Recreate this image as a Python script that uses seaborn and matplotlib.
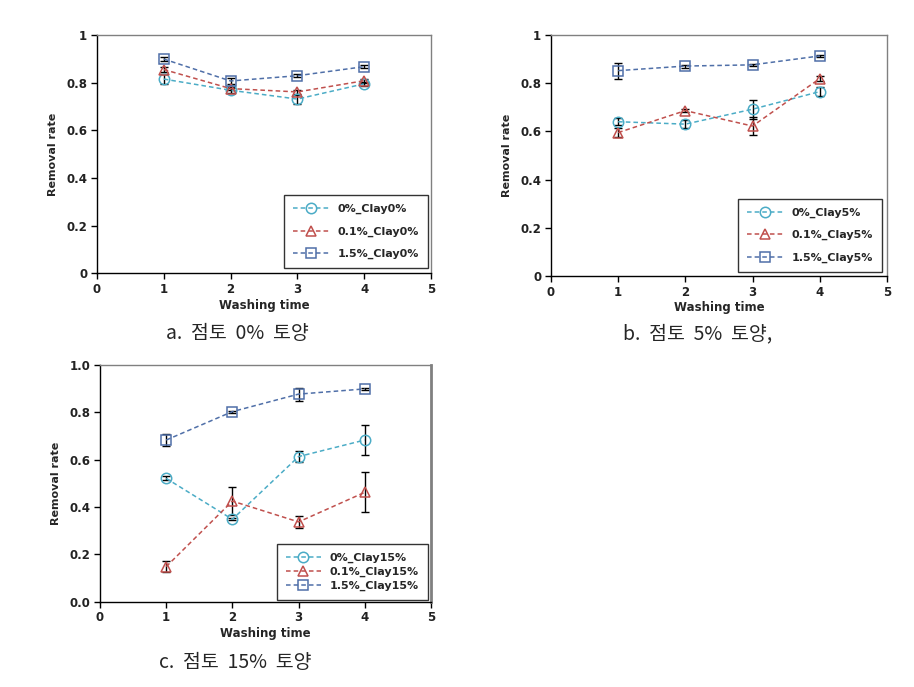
import matplotlib
matplotlib.use("Agg")
import matplotlib.pyplot as plt
import seaborn as sns
import pandas as pd
import numpy as np

sns.set_theme(style="white")
plt.rcParams['font.family'] = ['DejaVu Sans', 'Noto Sans CJK KR']

washing = [1, 2, 3, 4]
series_names = ["0%", "0.1%", "1.5%"]

# Panel a: Clay 0%
a_0 = [0.815, 0.768, 0.731, 0.795]
a_01 = [0.855, 0.775, 0.761, 0.808]
a_15 = [0.899, 0.807, 0.829, 0.867]
a_0_err = [0.022, 0.010, 0.019, 0.008]
a_01_err = [0.010, 0.008, 0.010, 0.008]
a_15_err = [0.008, 0.012, 0.006, 0.006]

# Panel b: Clay 5%
b_0 = [0.640, 0.630, 0.692, 0.765]
b_01 = [0.595, 0.686, 0.622, 0.819]
b_15 = [0.852, 0.871, 0.876, 0.913]
b_0_err = [0.014, 0.017, 0.040, 0.020]
b_01_err = [0.017, 0.005, 0.038, 0.010]
b_15_err = [0.033, 0.006, 0.005, 0.005]

# Panel c: Clay 15%
c_0 = [0.521, 0.348, 0.613, 0.683]
c_01 = [0.148, 0.425, 0.337, 0.462]
c_15 = [0.683, 0.803, 0.877, 0.899]
c_0_err = [0.008, 0.005, 0.022, 0.064]
c_01_err = [0.023, 0.060, 0.025, 0.084]
c_15_err = [0.025, 0.004, 0.027, 0.004]

colors = ["#4BACC6", "#C0504D", "#4F6FA8"]
markers = ["o", "^", "s"]

fig = plt.figure(figsize=(9.14, 6.87), dpi=100)
fig.patch.set_facecolor("white")

panels = [
    dict(pos=[0.1061, 0.6022, 0.3654, 0.3469], clay="0%", vals=[a_0, a_01, a_15],
         errs=[a_0_err, a_01_err, a_15_err], fmt="%g", leg=(0.991, 0.022), spacing=1.1,
         caption="a.  점토  0%  토양", cap_xy=(237, 334)),
    dict(pos=[0.6028, 0.5983, 0.3676, 0.3508], clay="5%", vals=[b_0, b_01, b_15],
         errs=[b_0_err, b_01_err, b_15_err], fmt="%g", leg=(0.985, 0.017), spacing=1.1,
         caption="b.  점토  5%  토양,", cap_xy=(698, 334)),
    dict(pos=[0.1094, 0.1242, 0.3621, 0.3445], clay="15%", vals=[c_0, c_01, c_15],
         errs=[c_0_err, c_01_err, c_15_err], fmt="%.1f", leg=(0.991, 0.007), spacing=0.35,
         caption="c.  점토  15%  토양", cap_xy=(235, 663)),
]

for p in panels:
    ax = fig.add_axes(p["pos"])
    for name, v, e, col, mk in zip(series_names, p["vals"], p["errs"], colors, markers):
        df = pd.DataFrame({"Washing time": washing, "Removal rate": v})
        ax.errorbar(washing, v, yerr=e, fmt="none", ecolor="black", elinewidth=1.0,
                    capsize=3.2, capthick=1.0, zorder=4)
        sns.lineplot(data=df, x="Washing time", y="Removal rate", ax=ax, color=col,
                     linestyle=(0, (3, 2)), linewidth=1.1, marker=mk, markersize=7.5,
                     markerfacecolor="none", markeredgecolor=col, markeredgewidth=1.1,
                     label=f"{name}_Clay{p['clay']}", zorder=5)
    ax.set_xlim(0, 5)
    ax.set_ylim(0, 1)
    ax.set_xticks([0, 1, 2, 3, 4, 5])
    ax.set_yticks([0, 0.2, 0.4, 0.6, 0.8, 1.0])
    ax.set_yticklabels([p["fmt"] % t for t in [0, 0.2, 0.4, 0.6, 0.8, 1.0]])
    ax.set_xticklabels([str(t) for t in range(6)])
    for lab in ax.get_xticklabels() + ax.get_yticklabels():
        lab.set_fontweight("bold")
        lab.set_fontsize(8.5)
        lab.set_color("#222222")
    ax.tick_params(axis="both", direction="out", length=4, width=1, color="black",
                   bottom=True, left=True, pad=3)
    ax.set_xlabel("Washing time", fontsize=8.5, fontweight="bold", labelpad=2)
    ax.set_ylabel("Removal rate", fontsize=8, fontweight="bold", labelpad=6)
    for s in ["left", "bottom"]:
        ax.spines[s].set_color("black")
        ax.spines[s].set_linewidth(1.0)
    for s in ["top", "right"]:
        ax.spines[s].set_color("#808080")
        ax.spines[s].set_linewidth(1.0)
    if p["clay"] == "15%":
        ax.spines["right"].set_linewidth(2.0)
    leg = ax.legend(loc="lower right", bbox_to_anchor=p["leg"], borderaxespad=0,
                    frameon=True, fancybox=False, edgecolor="black",
                    prop={"weight": "bold", "size": 8},
                    handlelength=3.2, labelspacing=p["spacing"], borderpad=0.8,
                    handletextpad=0.8)
    leg.get_frame().set_linewidth(1.0)
    fig.text(p["cap_xy"][0] / 914, 1 - p["cap_xy"][1] / 687, p["caption"],
             ha="center", va="center", fontsize=14, family=["Noto Sans CJK KR", "DejaVu Sans"])

fig.savefig("out.png", dpi=100, facecolor="white")
